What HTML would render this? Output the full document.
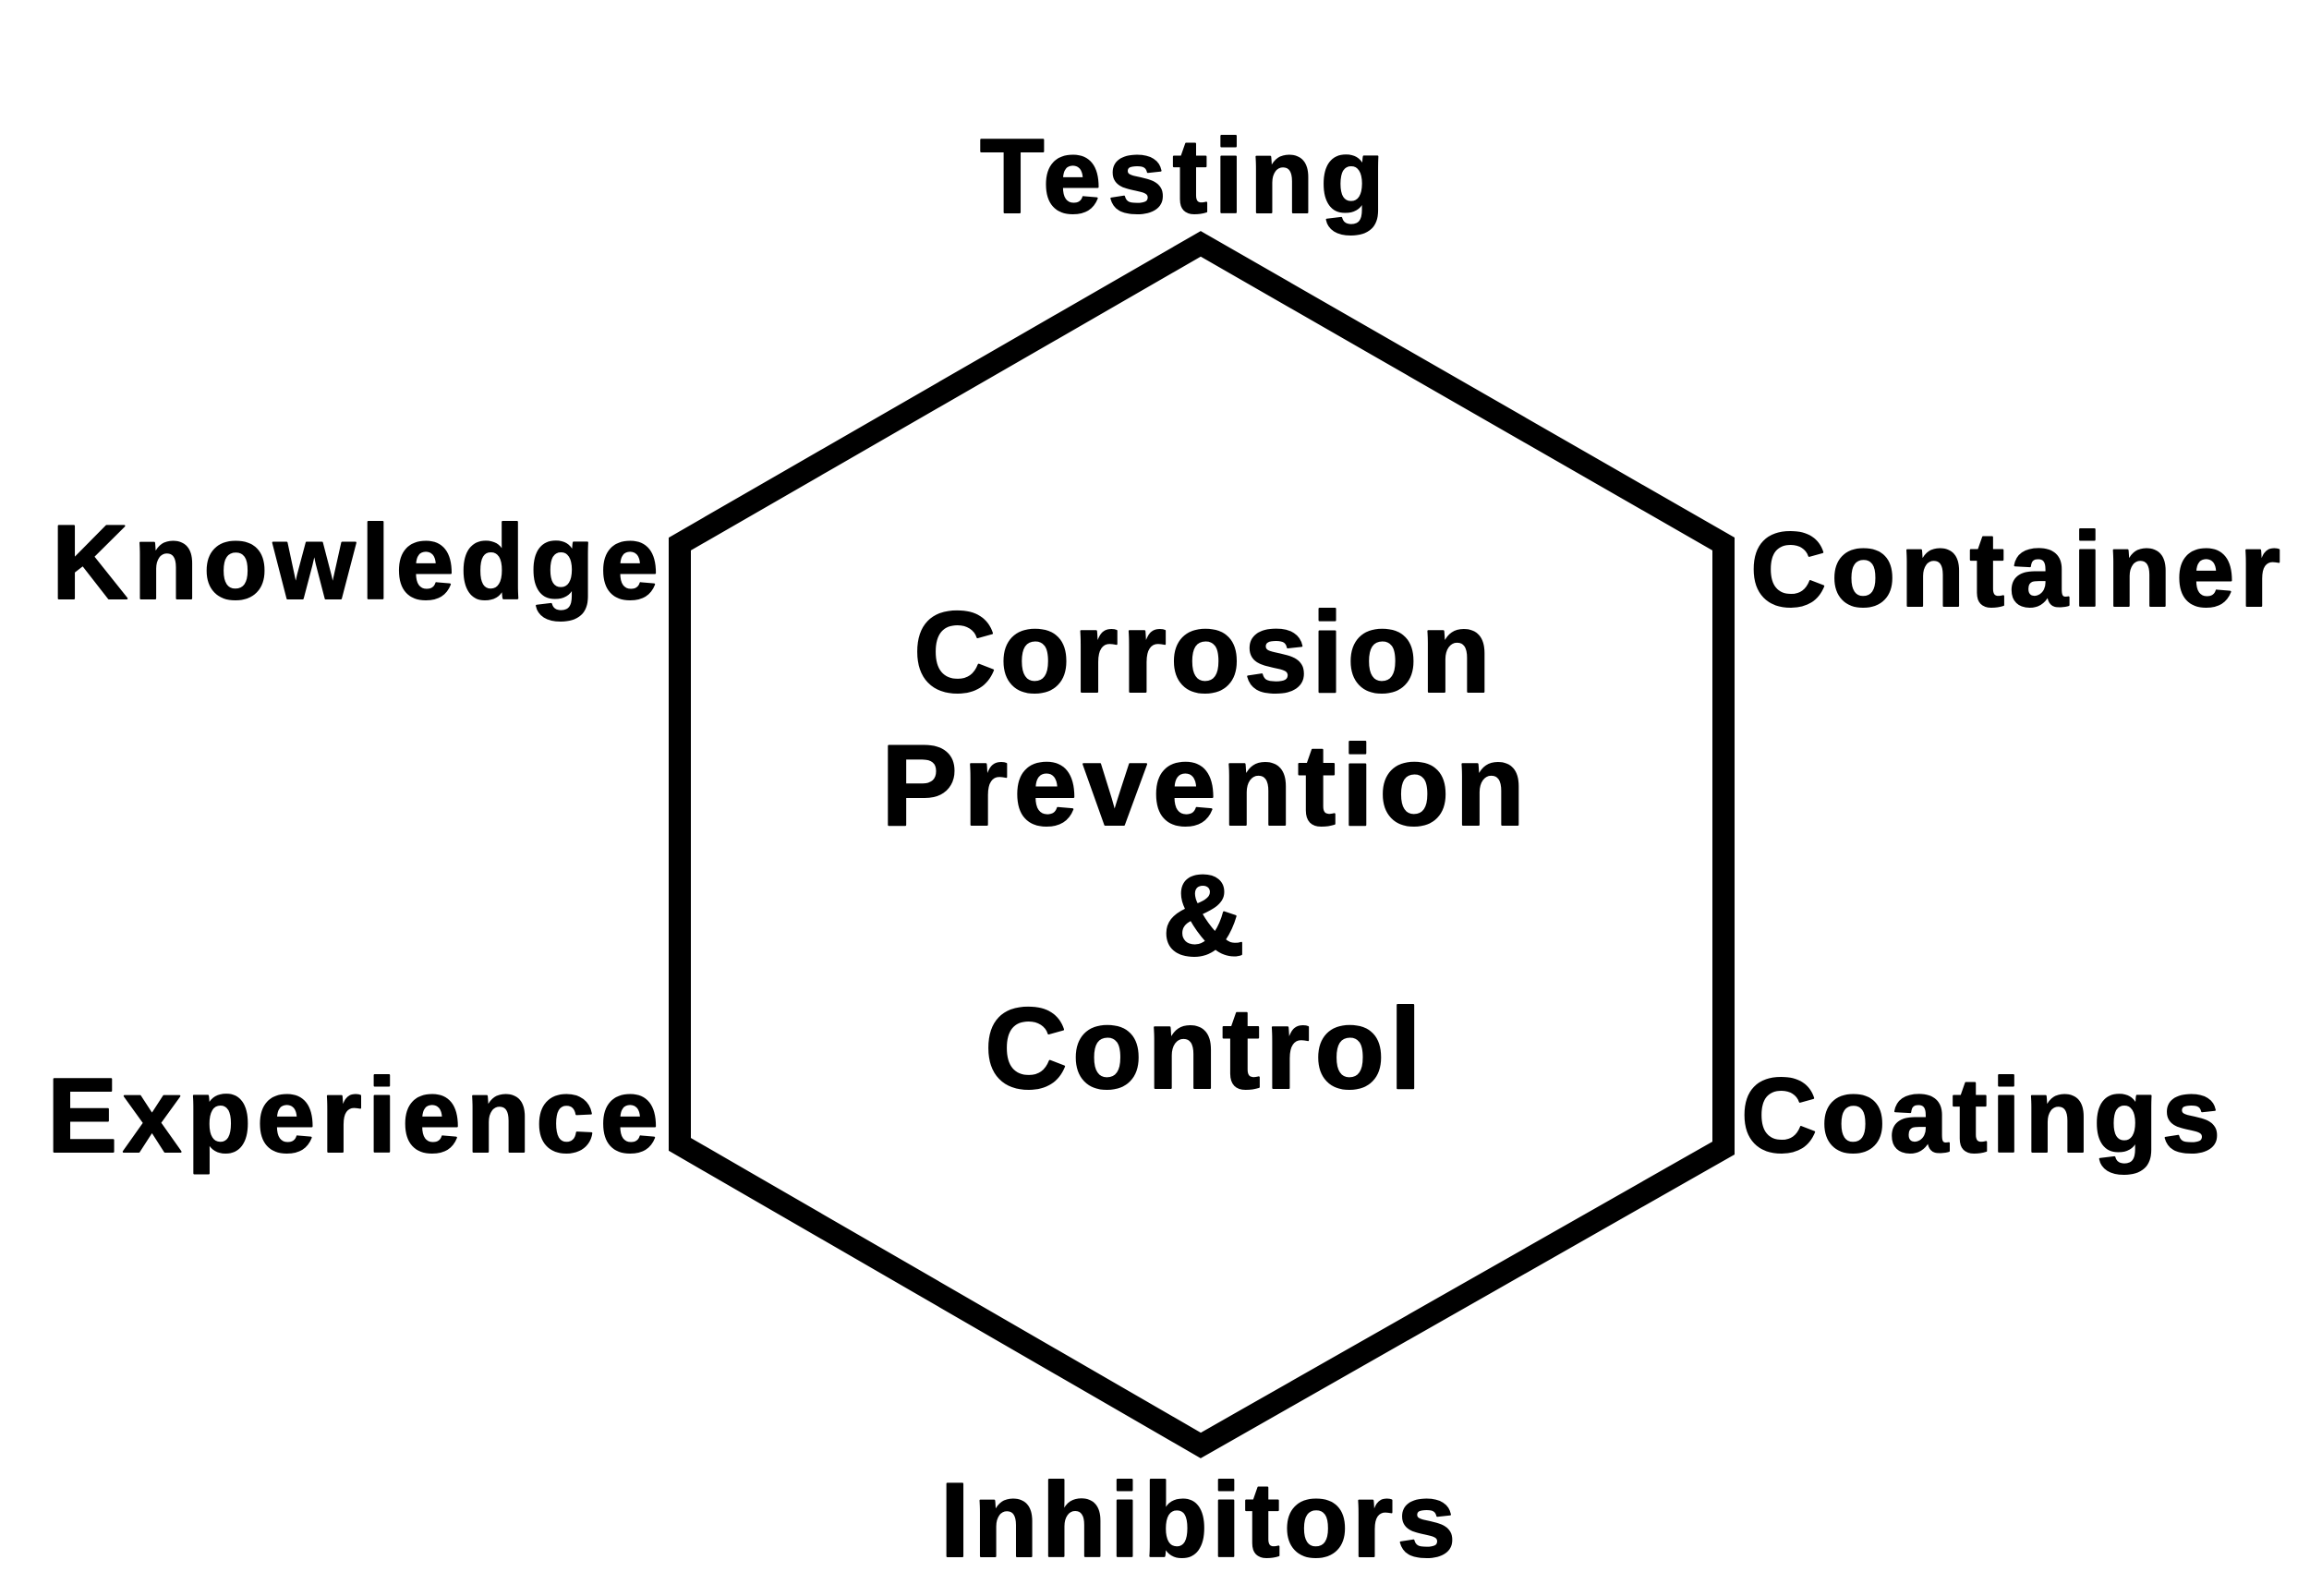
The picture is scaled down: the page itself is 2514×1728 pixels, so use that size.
<!DOCTYPE html>
<html><head><meta charset="utf-8"><style>html,body{margin:0;padding:0;background:#fff}svg{display:block}</style></head>
<body>
<svg width="2514" height="1728" viewBox="0 0 2514 1728" xmlns="http://www.w3.org/2000/svg">
<rect width="2514" height="1728" fill="#fff"/>
<polygon points="1300,264 1866,589 1866,1243 1300,1565 736,1239 736,589" fill="none" stroke="#000" stroke-width="24" stroke-linejoin="miter"/>
<g font-family="Liberation Sans, Arial, sans-serif" font-weight="bold" fill="#000" stroke="#000" stroke-width="2" stroke-linejoin="round" font-size="114">
<text x="1061" y="230" textLength="438" lengthAdjust="spacing">Testing</text>
<text x="56" y="648" textLength="657" lengthAdjust="spacing">Knowledge</text>
<text x="1895" y="656" textLength="574" lengthAdjust="spacing">Container</text>
<text x="51" y="1247" textLength="662" lengthAdjust="spacing">Experience</text>
<text x="1885" y="1247" textLength="519" lengthAdjust="spacing">Coatings</text>
<text x="1018" y="1685" textLength="558" lengthAdjust="spacing">Inhibitors</text>
<g font-size="124">
<text x="989" y="749" textLength="625" lengthAdjust="spacing">Corrosion</text>
<text x="954" y="893" textLength="697" lengthAdjust="spacing">Prevention</text>
<text x="1303" y="1034" text-anchor="middle">&amp;</text>
<text x="1066" y="1178" textLength="473" lengthAdjust="spacing">Control</text>
</g>
</g>
</svg>
</body></html>
